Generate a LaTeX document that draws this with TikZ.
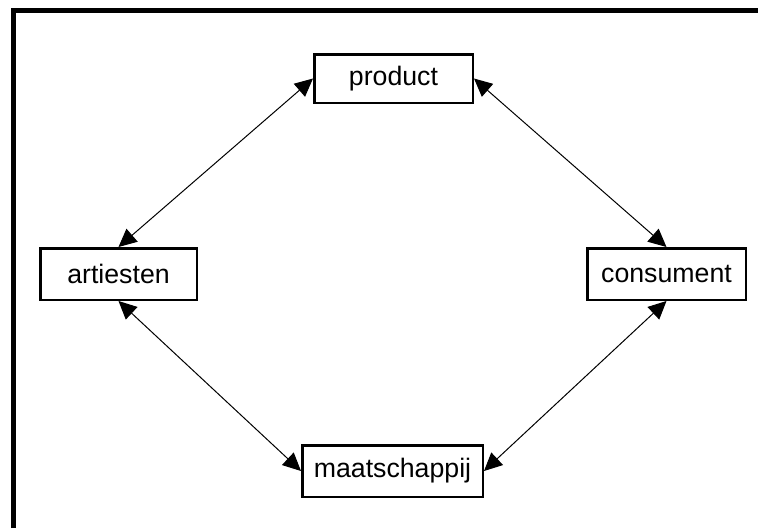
\documentclass[tikz,border=0pt]{standalone}
\usepackage{fontspec}
\setmainfont{Liberation Sans}
\usetikzlibrary{arrows.meta}
\begin{document}
\begin{tikzpicture}[x=1pt,y=-1pt,
  box/.style={draw=black,line width=2.5pt,fill=white,inner sep=0pt,
    font=\fontsize{26.7}{32}\selectfont},
  tip/.style={Triangle[length=18pt,width=17pt]},
  link/.style={line width=1pt,{Triangle[length=18pt,width=17pt]}-{Triangle[length=18pt,width=17pt]}}]
\useasboundingbox (0,0) rectangle (758,528);
\draw[line width=5pt] (13.5,528) -- (13.5,10.5) -- (758,10.5);
\node[box,minimum width=158.5pt,minimum height=48.5pt] (p) at (393.5,78.5) {product};
\node[box,minimum width=156.5pt,minimum height=51.5pt] (a) at (118.5,274) {artiesten};
\node[box,minimum width=158.5pt,minimum height=51.5pt] (c) at (666.5,274) {consument};
\node[box,minimum width=180.5pt,minimum height=51.5pt] (m) at (392.5,471) {maatschappij};
\draw[link] (p.west) -- (a.north);
\draw[link] (p.east) -- (c.north);
\draw[link] (a.south) -- (m.west);
\draw[link] (c.south) -- (m.east);
\end{tikzpicture}
\end{document}
